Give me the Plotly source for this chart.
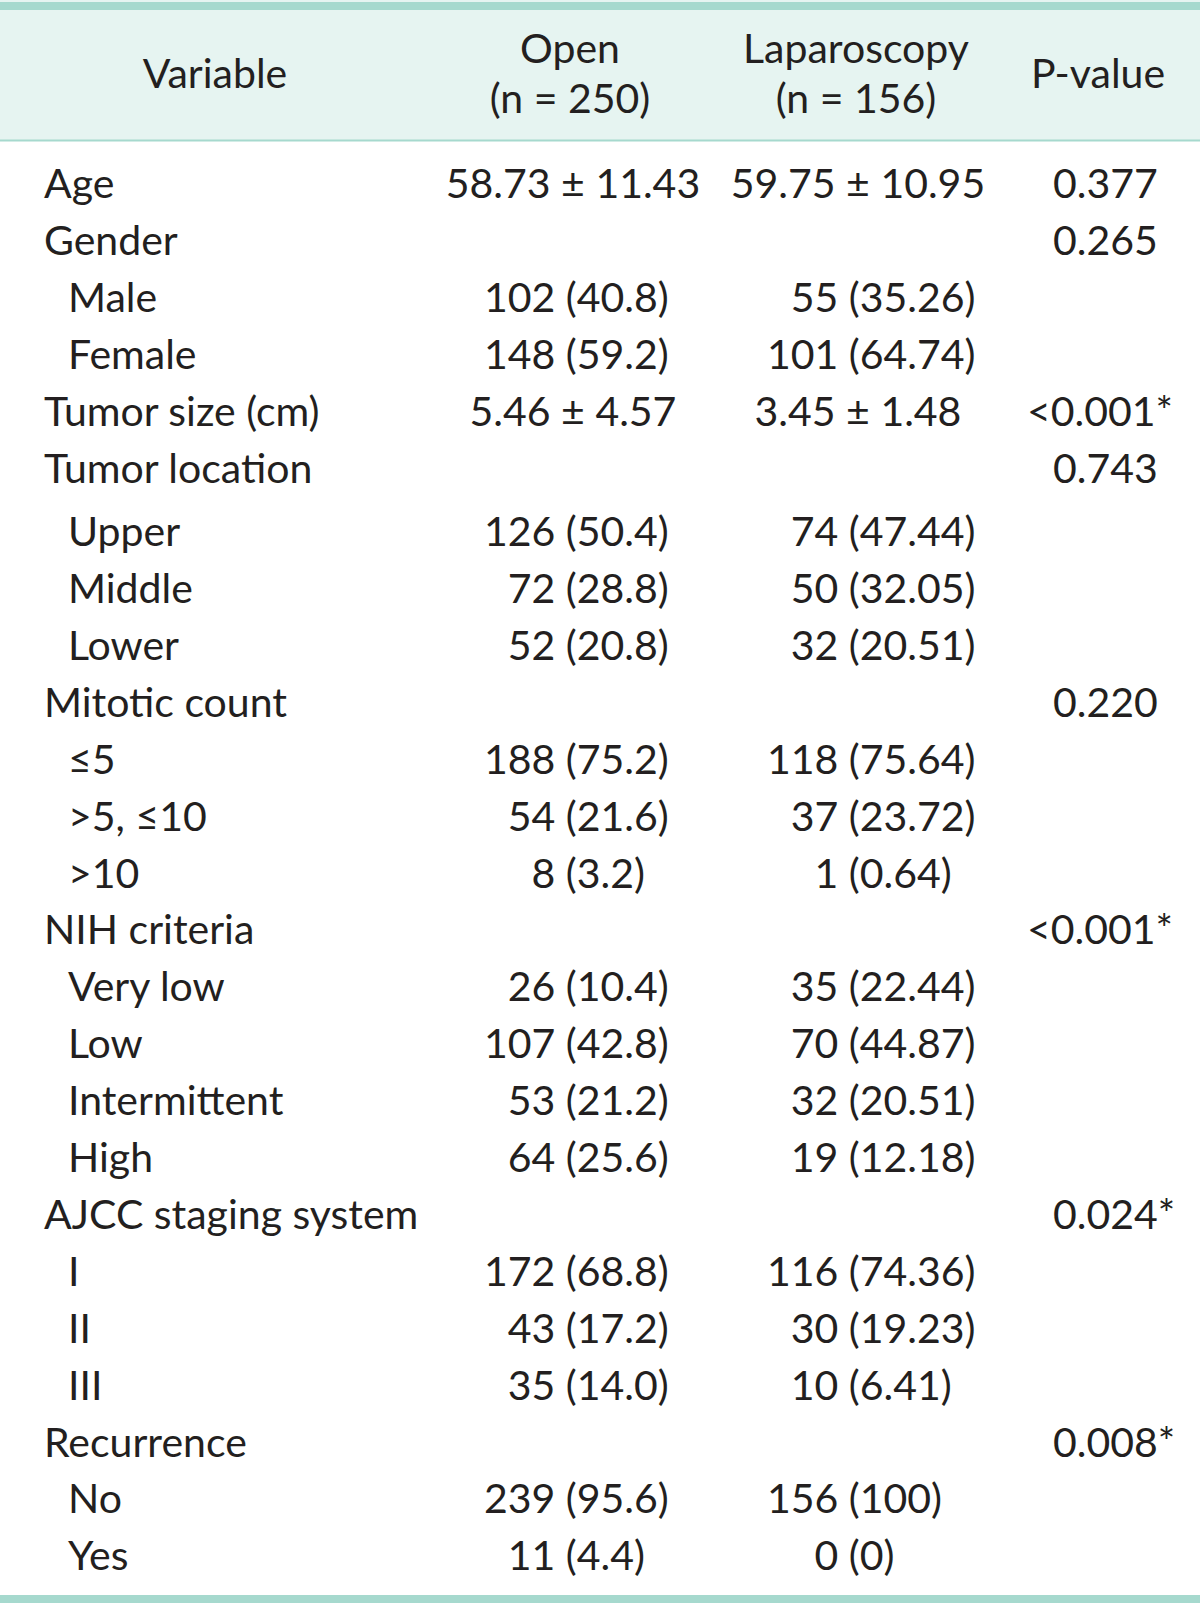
import re
import plotly.graph_objects as go

# ---------------- data ----------------
header_variable = "Variable"
header_open = ["Open", "(n = 250)"]
header_lap = ["Laparoscopy", "(n = 156)"]
header_p = "P-value"

variables = ["Age", "Gender", "Male", "Female", "Tumor size (cm)", "Tumor location",
             "Upper", "Middle", "Lower", "Mitotic count", "≤5", ">5, ≤10", ">10",
             "NIH criteria", "Very low", "Low", "Intermittent", "High",
             "AJCC staging system", "I", "II", "III", "Recurrence", "No", "Yes"]
is_subitem = [False, False, True, True, False, False,
              True, True, True, False, True, True, True,
              False, True, True, True, True,
              False, True, True, True, False, True, True]
open_vals = ["58.73 ± 11.43", "", "102 (40.8)", "148 (59.2)", "5.46 ± 4.57", "",
             "126 (50.4)", "72 (28.8)", "52 (20.8)", "", "188 (75.2)", "54 (21.6)", "8 (3.2)",
             "", "26 (10.4)", "107 (42.8)", "53 (21.2)", "64 (25.6)",
             "", "172 (68.8)", "43 (17.2)", "35 (14.0)", "", "239 (95.6)", "11 (4.4)"]
lap_vals = ["59.75 ± 10.95", "", "55 (35.26)", "101 (64.74)", "3.45 ± 1.48", "",
            "74 (47.44)", "50 (32.05)", "32 (20.51)", "", "118 (75.64)", "37 (23.72)", "1 (0.64)",
            "", "35 (22.44)", "70 (44.87)", "32 (20.51)", "19 (12.18)",
            "", "116 (74.36)", "30 (19.23)", "10 (6.41)", "", "156 (100)", "0 (0)"]
p_vals = ["0.377", "0.265", "", "", "<0.001*", "0.743",
          "", "", "", "0.220", "", "", "",
          "<0.001*", "", "", "", "",
          "0.024*", "", "", "", "0.008*", "", ""]

# ---------------- layout / style ----------------
W, H = 1200, 1605
FONT = "Lato"
FS = 41
TXT = "#231F20"
BAND = "#E6F4F1"
RULE = "#A6D9CE"
ROW0 = 188
ROW_H = 56.9
EXTRA_AFTER = {"Tumor location": 6.5}
X_MAIN, X_SUB = 44, 68
X_OPEN_L, X_OPEN_C = 484, 573
X_LAP_L, X_LAP_C = 767, 858
X_P, X_P_LT = 1053, 1027
HDR_X = [215, 570, 570, 856, 856, 1098]
HDR_Y = [78, 53, 103, 53, 103, 78]
FIG_SP = "\u2007"

# row positions
ys = []
y = ROW0
for v in variables:
    ys.append(y)
    y += ROW_H + EXTRA_AFTER.get(v, 0)


def pad(s):
    m = re.match(r"^(\d+) \(", s)
    if m:
        return FIG_SP * (3 - len(m.group(1))) + s
    return s


fig = go.Figure()
font = dict(family=FONT, size=FS, color=TXT)


def add_text(xs, yv, texts, pos):
    fig.add_trace(go.Scatter(x=xs, y=yv, text=texts, mode="text", textposition=pos,
                             textfont=font, hoverinfo="skip", showlegend=False,
                             cliponaxis=False))


# variable column
add_text([X_SUB if s else X_MAIN for s in is_subitem], ys, variables, "middle right")

# value columns
for vals, xl, xc in [(open_vals, X_OPEN_L, X_OPEN_C), (lap_vals, X_LAP_L, X_LAP_C)]:
    idx_l = [i for i, t in enumerate(vals) if t and "±" not in t]
    idx_c = [i for i, t in enumerate(vals) if t and "±" in t]
    add_text([xl] * len(idx_l), [ys[i] for i in idx_l], [pad(vals[i]) for i in idx_l], "middle right")
    add_text([xc] * len(idx_c), [ys[i] for i in idx_c], [vals[i] for i in idx_c], "middle center")

# p-values
idx_p = [i for i, t in enumerate(p_vals) if t]
add_text([X_P_LT if p_vals[i].startswith("<") else X_P for i in idx_p],
         [ys[i] for i in idx_p], [p_vals[i] for i in idx_p], "middle right")

# header
add_text(HDR_X, HDR_Y,
         [header_variable, header_open[0], header_open[1], header_lap[0], header_lap[1], header_p],
         "middle center")

shapes = [
    dict(type="rect", xref="x", yref="y", x0=0, x1=W, y0=0, y1=140, fillcolor=BAND,
         line_width=0, layer="below"),
    dict(type="rect", xref="x", yref="y", x0=0, x1=W, y0=2, y1=10, fillcolor=RULE,
         line_width=0, layer="below"),
    dict(type="line", xref="x", yref="y", x0=0, x1=W, y0=140.5, y1=140.5,
         line=dict(color=RULE, width=2), layer="below"),
    dict(type="rect", xref="x", yref="y", x0=0, x1=W, y0=1595, y1=1603, fillcolor=RULE,
         line_width=0, layer="below"),
]

fig.update_layout(
    width=W, height=H, margin=dict(l=0, r=0, t=0, b=0),
    paper_bgcolor="white", plot_bgcolor="white",
    xaxis=dict(range=[0, W], visible=False, fixedrange=True),
    yaxis=dict(range=[H, 0], visible=False, fixedrange=True),
    shapes=shapes,
)

fig.write_html("out.html", config={"displayModeBar": False},
               post_script="document.body.style.margin='0';document.body.style.overflow='hidden';")
